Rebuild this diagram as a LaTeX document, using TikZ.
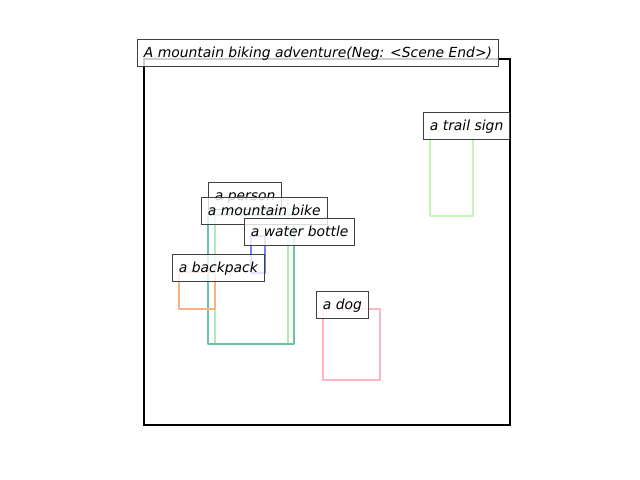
\documentclass[tikz,border=0pt]{standalone}
\usepackage{fontspec}
\setmainfont{DejaVu Sans}
\usetikzlibrary{calc}
\definecolor{boxperson}{RGB}{178,234,178}
\definecolor{boxbike}{RGB}{104,196,164}
\definecolor{boxbottle}{RGB}{110,130,240}
\definecolor{boxbackpack}{RGB}{246,178,130}
\definecolor{boxdog}{RGB}{255,180,192}
\definecolor{boxsign}{RGB}{196,246,184}
\tikzset{
	objbox/.style={line width=1.6pt, line join=round},
	tag/.style={draw=black!75, line width=0.72pt, fill=white, fill opacity=0.8, text opacity=1,
		anchor=south west, font=\itshape, inner xsep=4.6pt, inner ysep=4.8pt,
		text height=8.5pt, text depth=1.6pt}
}

\begin{document}
\begin{tikzpicture}[x=0.72pt,y=-0.72pt]
				\useasboundingbox (0,0) rectangle (640,480);
				\coordinate (F1) at (144,59);
				\coordinate (F2) at (510,425);
				
				\draw[line width=1.6pt] (F1) rectangle (F2);
				\node[tag] (title) at ($(F1)+(-7,8)$) {A mountain biking adventure(Neg: <Scene End>)};
				
				\foreach \name/\xa/\ya/\xb/\yb/\txt in {
					person/215/200/288/344/a person,
					bike/208/215/294/344/a mountain bike,
					bottle/251/236/265/273/a water bottle,
					backpack/179/272/215/309/a backpack,
					dog/323/309/380/380/a dog,
					sign/430/130/473/216/a trail sign}{
					\coordinate (\name-tl) at (\xa,\ya);
					\coordinate (\name-br) at (\xb,\yb);
					\draw[objbox,draw=box\name] (\name-tl) rectangle (\name-br);
					\node[tag] (lbl-\name) at ($(\name-tl)+(-7,10)$) {\txt};}
			\end{tikzpicture}
\end{document}
